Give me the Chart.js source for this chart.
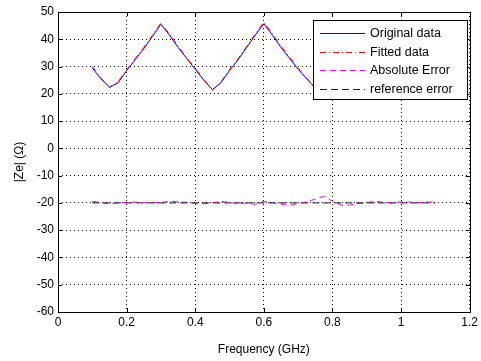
<!DOCTYPE html>
<html>
<head>
<meta charset="utf-8">
<script src="https://cdn.jsdelivr.net/npm/chart.js@4.4.1/dist/chart.umd.min.js"></script>
<style>
  html, body { margin: 0; padding: 0; background: #fff; }
  #wrap { width: 481px; height: 361px; }
</style>
</head>
<body>
<div id="wrap"><canvas id="zeChart" width="481" height="361"></canvas></div>
<script>
// frequency samples (GHz)
const freq = [0.1, 0.125, 0.15, 0.175, 0.2, 0.225, 0.25, 0.275, 0.3, 0.325,
  0.35, 0.375, 0.4, 0.425, 0.45, 0.475, 0.5, 0.525, 0.55, 0.575,
  0.6, 0.625, 0.65, 0.675, 0.7, 0.725, 0.75, 0.775, 0.8, 0.825,
  0.85, 0.875, 0.9, 0.925, 0.95, 0.975, 1.0, 1.025, 1.05, 1.075, 1.1];

const original = [29.5, 25.5, 22.5, 24, 28.5, 32.5, 36.5, 41, 45.5, 41.5,
  37, 33, 29, 25, 21.5, 24, 28.5, 32.5, 37, 41.5,
  45.7, 41.5, 37, 33, 29, 25.5, 22, 24, 28.5, 32.5,
  37, 41.5, 45.5, 41.5, 37, 33, 29, 25, 22, 25, 29.5];

const fitted = [30, 25.8, 22.2, 24.4, 28.8, 32.9, 37, 41.4, 46, 41.9,
  37.5, 33.3, 29.4, 25.3, 21.3, 24.3, 28.9, 32.9, 37.4, 41.9,
  46.3, 42, 37.5, 33.4, 29.4, 25.8, 22.3, 24.4, 28.8, 32.9,
  37.4, 41.9, 46, 41.9, 37.4, 33.3, 29.3, 25.3, 22.3, 25.3, 29.8];

const absError = [-19.4, -19.9, -20.3, -20, -19.8, -19.7, -19.9, -19.8, -19.9, -19.3,
  -19.6, -19.8, -20.1, -20.3, -20, -19.4, -19.9, -20.2, -20.1, -20.5,
  -19.5, -19.9, -20.4, -21, -20.2, -19.6, -18.6, -17.6, -19.4, -20.8,
  -20.8, -20.2, -19.9, -19.4, -19.8, -20, -19.6, -19.7, -19.9, -19.7, -19.7];

const refError = freq.map(() => -20);

const xTicks = [0, 0.2, 0.4, 0.6, 0.8, 1, 1.2];
const yTicks = [50, 40, 30, 20, 10, 0, -10, -20, -30, -40, -50, -60];

const seriesNames = ['Original data', 'Fitted data', 'Absolute Error', 'reference error'];
const seriesColors = ['#0000ff', '#ff0000', '#ff00ff', '#222222'];
const seriesDash = [[], [6, 3, 1, 3], [6, 4], [7, 4]];

const font = "'Liberation Sans', Arial, sans-serif";

function pts(ys) {
  return freq.map((f, i) => ({ x: f, y: ys[i] }));
}

const seriesData = [original, fitted, absError, refError];

const datasets = seriesData.map((ys, i) => ({
  label: seriesNames[i],
  data: pts(ys),
  borderColor: seriesColors[i],
  borderWidth: 1,
  borderDash: seriesDash[i],
  pointRadius: 0,
  fill: false,
  tension: 0,
  order: 3 - i
}));

// box, inward ticks and legend, matlab style
const matlabBox = {
  id: 'matlabBox',
  afterDraw(chart) {
    const ctx = chart.ctx;
    const a = chart.chartArea;
    const xs = chart.scales.x, ys = chart.scales.y;
    ctx.save();
    ctx.strokeStyle = '#000';
    ctx.lineWidth = 1;
    ctx.setLineDash([]);
    ctx.strokeRect(Math.round(a.left) + 0.5, Math.round(a.top) + 0.5,
      Math.round(a.right - a.left), Math.round(a.bottom - a.top));
    ctx.beginPath();
    xTicks.forEach(v => {
      const px = Math.round(xs.getPixelForValue(v)) + 0.5;
      ctx.moveTo(px, a.bottom); ctx.lineTo(px, a.bottom - 4);
      ctx.moveTo(px, a.top); ctx.lineTo(px, a.top + 4);
    });
    yTicks.forEach(v => {
      const py = Math.round(ys.getPixelForValue(v)) + 0.5;
      ctx.moveTo(a.left, py); ctx.lineTo(a.left + 4, py);
      ctx.moveTo(a.right, py); ctx.lineTo(a.right - 4, py);
    });
    ctx.stroke();

    // legend box
    const lx = 313, ly = 20, lw = 154, lh = 79;
    ctx.fillStyle = '#fff';
    ctx.fillRect(lx, ly, lw, lh);
    ctx.strokeRect(lx + 0.5, ly + 0.5, lw, lh);
    ctx.font = '12.5px ' + font;
    ctx.textBaseline = 'middle';
    seriesNames.forEach((name, i) => {
      const y = Math.round(ly + 13 + i * 18.7) + 0.5;
      ctx.strokeStyle = seriesColors[i];
      ctx.setLineDash(seriesDash[i]);
      ctx.beginPath();
      ctx.moveTo(320, y); ctx.lineTo(365, y);
      ctx.stroke();
      ctx.fillStyle = '#000';
      ctx.fillText(name, 370, y);
    });
    ctx.restore();
  }
};

new Chart(document.getElementById('zeChart'), {
  type: 'line',
  data: { datasets: datasets },
  options: {
    responsive: false,
    animation: false,
    layout: { padding: { top: 12, right: 10, left: 0, bottom: 0 } },
    plugins: { legend: { display: false }, tooltip: { enabled: false } },
    scales: {
      x: {
        type: 'linear',
        min: 0, max: 1.2,
        afterBuildTicks: s => { s.ticks = xTicks.map(v => ({ value: v })); },
        afterFit: s => { s.height = 49; },
        ticks: { color: '#000', font: { family: font, size: 12 }, padding: 3, maxRotation: 0,
          callback: v => String(Math.round(v * 10) / 10) },
        grid: { color: '#000', drawTicks: false, lineWidth: 1 },
        border: { display: false, dash: [1, 3] },
        title: { display: true, text: 'Frequency (GHz)', color: '#000',
          font: { family: font, size: 12 }, padding: { top: 8 } }
      },
      y: {
        type: 'linear',
        min: -60, max: 50,
        afterBuildTicks: s => { s.ticks = yTicks.map(v => ({ value: v })); },
        afterFit: s => { s.width = 58; },
        ticks: { color: '#000', font: { family: font, size: 12 }, padding: 4 },
        grid: { color: '#000', drawTicks: false, lineWidth: 1 },
        border: { display: false, dash: [1, 3] },
        title: { display: true, text: '|Ze| (Ω)', color: '#000',
          font: { family: font, size: 12 }, padding: { bottom: 0, top: 12 } }
      }
    }
  },
  plugins: [matlabBox]
});
</script>
</body>
</html>
